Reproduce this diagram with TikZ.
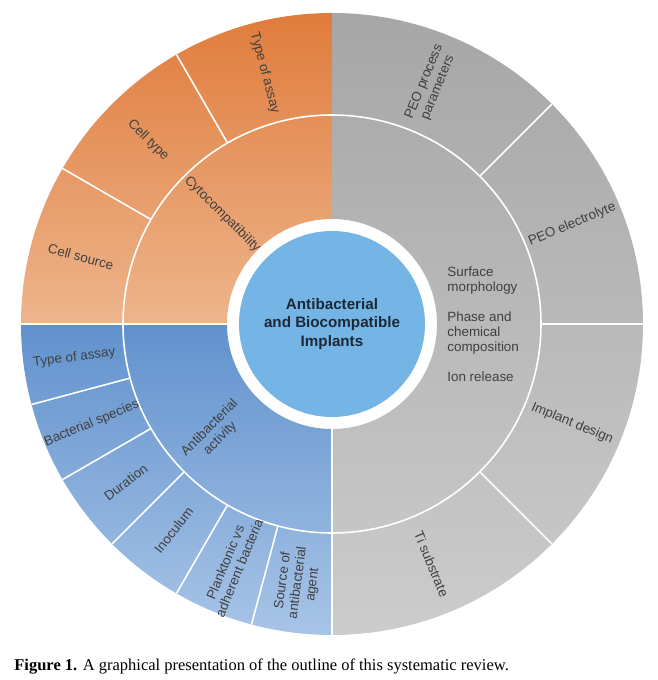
\documentclass[tikz,border=0pt]{standalone}
\usepackage{fontspec}
\setmainfont{Liberation Serif}
\setsansfont{Liberation Sans}

\definecolor{orangetop}{HTML}{E07C3C}
\definecolor{orangebot}{HTML}{EDB58C}
\definecolor{bluetop}{HTML}{6192CD}
\definecolor{bluebot}{HTML}{A8C4E7}
\definecolor{greytop}{HTML}{A6A6A6}
\definecolor{greybot}{HTML}{CCCCCC}
\definecolor{hubblue}{HTML}{75B5E5}
\definecolor{labelgrey}{HTML}{404040}
\definecolor{hubtext}{HTML}{1B2838}

\begin{document}
\begin{tikzpicture}[x=0.5pt, y=0.5pt,
        ring label/.style={font=\sffamily\fontsize{6.7}{7.5}\selectfont, text=labelgrey, align=center, inner sep=0pt},
        sep line/.style={white, line width=0.8pt},
        hub/.style={circle, fill=hubblue, minimum size=93pt, inner sep=0pt, align=center,
            font=\sffamily\bfseries\fontsize{7.6}{9.3}\selectfont, text=hubtext}]

    \useasboundingbox (-332,-356) rectangle (326,324);

    % Sektory
    \shade[top color=orangetop, bottom color=orangebot]
        (90:105) -- (90:311) arc[start angle=90, end angle=180, radius=311]
        -- (180:105) arc[start angle=180, end angle=90, radius=105] -- cycle;
    \shade[top color=bluetop, bottom color=bluebot]
        (180:105) -- (180:311) arc[start angle=180, end angle=270, radius=311]
        -- (270:105) arc[start angle=270, end angle=180, radius=105] -- cycle;
    \shade[top color=greytop, bottom color=greybot]
        (270:105) -- (270:311) arc[start angle=270, end angle=450, radius=311]
        -- (90:105) arc[start angle=90, end angle=-90, radius=105] -- cycle;

    % Linie
    \draw[sep line] (209,0) arc[start angle=0, end angle=360, radius=209];
    \draw[sep line] (180:105) -- (180:311);
    \draw[sep line] (270:105) -- (270:311);
    \draw[sep line] (120:209) -- (120:311);
    \draw[sep line] (150:209) -- (150:311);
    \draw[sep line] (195:209) -- (195:311);
    \draw[sep line] (210:209) -- (210:311);
    \draw[sep line] (225:209) -- (225:311);
    \draw[sep line] (240:209) -- (240:311);
    \draw[sep line] (255:209) -- (255:311);
    \draw[sep line] (45:209) -- (45:311);
    \draw[sep line] (0:209) -- (0:311);
    \draw[sep line] (-45:209) -- (-45:311);

    % Srodek
    \node[hub] (hub) at (0,0) {Antibacterial\\and Biocompatible\\Implants};

    % Pierscien wewnetrzny
    \node[ring label, rotate=-45] (cyto) at (135:155) {Cytocompatibility};
    \node[ring label, rotate=45] (antibact) at (223:160) {Antibacterial\\activity};
    \node[ring label, align=left, anchor=west] (peo) at (115,0)
        {Surface\\morphology\\[7.5pt]Phase and\\chemical\\composition\\[7.5pt]Ion release};

    % Pierscien zewnetrzny
    \node[ring label, rotate=-75] (cytoassay) at (105:260) {Type of assay};
    \node[ring label, rotate=-45] (celltype) at (135:260) {Cell type};
    \node[ring label, rotate=-15] (cellsource) at (165:260) {Cell source};
    \node[ring label, rotate=7.5] (bactassay) at (187.5:260) {Type of assay};
    \node[ring label, rotate=22.5] (species) at (202.5:260) {Bacterial species};
    \node[ring label, rotate=37.5] (duration) at (217.5:260) {Duration};
    \node[ring label, rotate=52.5] (inoculum) at (232.5:260) {Inoculum};
    \node[ring label, rotate=67.5] (planktonic) at (247.5:261) {Planktonic vs\\adherent bacteria};
    \node[ring label, rotate=82.5] (agent) at (262.5:261) {Source of\\antibacterial\\agent};
    \node[ring label, rotate=67.5] (process) at (67.5:259) {PEO process\\parameters};
    \node[ring label, rotate=22.5] (electrolyte) at (22.5:260) {PEO electrolyte};
    \node[ring label, rotate=-22.5] (design) at (-22.5:260) {Implant design};
    \node[ring label, rotate=-67.5] (substrate) at (-67.5:260) {Ti substrate};

    % Podpis
    \node[anchor=west, inner sep=0pt, font=\fontsize{8.25}{9.5}\selectfont] (caption) at (-318,-343)
        {\textbf{Figure 1.} A graphical presentation of the outline of this systematic review.};
\end{tikzpicture}
\end{document}
